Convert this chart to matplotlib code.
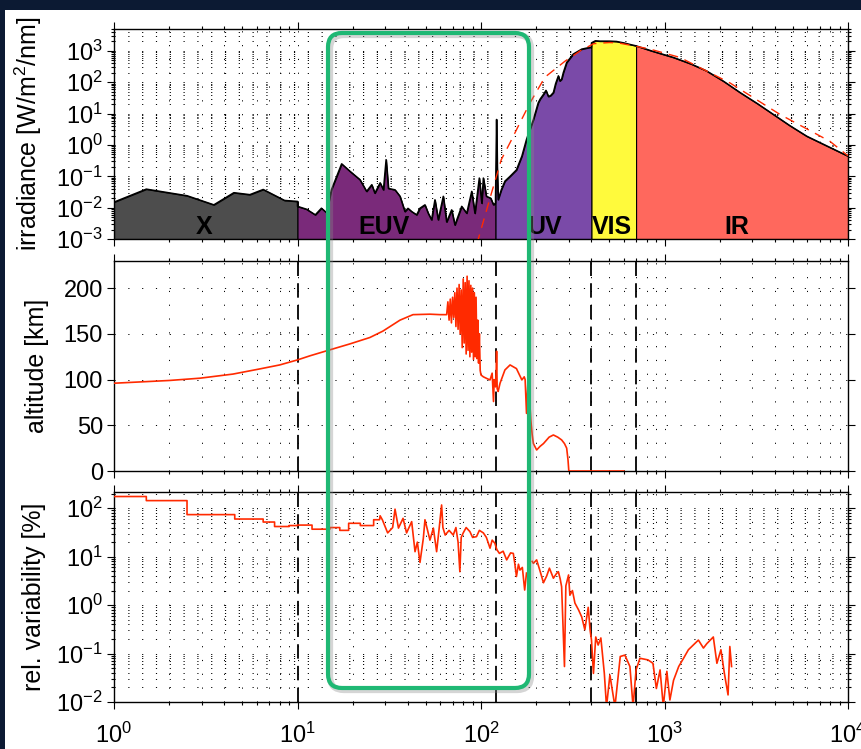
import numpy as np
import matplotlib.pyplot as plt
from matplotlib.patches import FancyBboxPatch, Rectangle
from matplotlib.transforms import IdentityTransform
from matplotlib.ticker import LogLocator, NullFormatter, FixedLocator

plt.rcParams['font.family'] = ['Liberation Sans', 'DejaVu Sans']
plt.rcParams['mathtext.fontset'] = 'custom'
plt.rcParams['mathtext.rm'] = 'Liberation Sans'
plt.rcParams['mathtext.it'] = 'Liberation Sans:italic'
plt.rcParams['mathtext.bf'] = 'Liberation Sans:bold'

# --- solar spectral irradiance (black line + coloured fill)
irr_wl = [1, 1.5, 2.5, 3.5, 4.5, 5.5, 6.5, 8.5, 10,
          10, 11.2, 12.5, 13.5, 14.4, 15.3, 17.4, 19.3, 21.9, 23.8, 25.4, 26.4, 28.2,
          29.4, 30.4, 31.3, 34, 36.2, 38.5, 40, 41.9, 44.6, 46.5, 49.5, 51.6, 53.8, 56.1,
          58.5, 62.3, 65, 69.2, 72.1, 78.5, 83.6, 89, 92.7, 97.9, 101, 103, 107, 113, 117, 120,
          120, 121.6, 122.5, 124, 129, 135, 144, 156, 167, 177, 193, 205, 210, 219, 226, 233,
          240, 248, 255, 264, 269, 275, 281, 293, 318, 354, 393, 400,
          400, 420, 445, 500, 548, 600, 650, 700,
          850, 1117, 1400, 1695, 2100, 2580, 3200, 3920, 4800, 5960, 7700, 10000]
irr_val = [0.015, 0.039, 0.024, 0.0123, 0.030, 0.026, 0.038, 0.017, 0.0158,
           0.011, 0.0089, 0.0059, 0.0096, 0.0069, 0.037, 0.25, 0.145, 0.078, 0.033, 0.054, 0.029, 0.062,
           0.037, 0.34, 0.041, 0.037, 0.023, 0.0075, 0.0095, 0.0075, 0.0059, 0.0096, 0.0123, 0.0066, 0.0041, 0.0178,
           0.0041, 0.023, 0.0035, 0.0085, 0.0028, 0.011, 0.0066, 0.033, 0.0066, 0.088, 0.0138, 0.088, 0.023, 0.020, 0.0123, 0.014,
           0.02, 6.5, 0.21, 0.018, 0.037, 0.07, 0.1, 0.16, 0.44, 1.5, 6.5, 22, 29, 41, 55, 35,
           38, 47, 90, 160, 110, 125, 204, 427, 790, 1140, 1300, 1300,
           1800, 2100, 2050, 2050, 2000, 1800, 1600, 1450,
           1000, 620, 380, 230, 107, 47, 21, 9.4, 4.2, 1.9, 0.92, 0.44]

# blackbody reference (red dashed)
bb_wl = [95, 114, 129, 147, 163, 185, 223, 287, 347, 411, 500, 560, 660, 830, 1213, 2275, 4260, 7980, 10000]
bb_val = [0.0007, 0.029, 0.34, 1.5, 5.1, 22, 145, 470, 1000, 1700, 1850, 1800, 1500, 1150, 620, 95, 9.4, 1.3, 0.45]

region_edges = [1, 10, 120, 400, 700, 10000]
region_names = ['X', 'EUV', 'UV', 'VIS', 'IR']
region_colors = ['#4d4d4d', '#7a2a7a', '#7a4aa8', '#fffa3c', '#ff685d']
region_label_x = [3.1, 29.6, 222, 517, 2470]

# --- absorption altitude
alt_wl = [1, 2, 2.94, 4.45, 6.25, 8, 10, 11.7, 15, 19.3, 24.8, 29.2, 36.2, 42.6, 52.7, 59.8,
          65, 66, 67, 68, 69, 70, 71, 72, 73, 74, 75, 76, 77, 78, 79, 80, 81, 82, 83, 84, 85,
          86, 87, 88, 89, 90, 91, 92, 93, 94, 95, 96, 97, 98, 99, 100,
          103, 108, 112, 115, 117, 118, 119, 120, 121, 121.6, 122.5, 124, 127, 135, 144, 156,
          167, 172, 174, 177, 180, 184, 187, 190, 193, 201, 210, 219, 235, 248, 262, 275, 285,
          293, 298, 301, 600]
alt_km = [96, 99, 101.5, 106, 111.7, 116, 121.5, 126, 132.5, 139, 146, 153, 165, 171, 171.5, 171,
          171, 185, 165, 188, 162, 190, 168, 195, 158, 200, 155, 204, 150, 198, 135, 210, 140, 206, 128, 213, 132,
          208, 125, 203, 130, 200, 122, 195, 125, 190, 123, 165, 118, 150, 110, 105,
          103, 101, 99.6, 107, 76, 100, 96, 92, 110, 131, 90, 87, 96, 110.5, 116, 112,
          99.6, 103, 100, 63, 95, 78, 55, 40, 30, 23, 27, 30, 37, 39.4, 37, 34, 30,
          25, 12, 0, 0]

# --- relative variability
var_wl = [1, 1.5, 1.5, 2.5, 2.5, 4.55, 4.55, 6.5, 6.5, 7.5, 7.5, 9, 9, 10, 10, 12, 12, 15, 15,
          17, 17, 19, 19, 22, 22, 26, 26, 28, 28.2, 29, 31, 33, 34, 35.5, 37.6, 39.3, 41.9,
          43.7, 45, 46.5, 48.5, 49.5, 52.7, 55, 57.3, 59, 61, 62, 63.8, 67, 70.6, 73, 75,
          76.7, 78, 80, 83, 87, 90, 94.5, 98, 103, 107, 112, 115, 119, 122, 126, 132, 138,
          145, 150, 153, 156, 160, 163, 168, 173, 177, 183,
          190, 193, 201, 210, 219, 228, 236, 248, 258, 264, 270, 275, 285, 290, 300, 305,
          315, 325, 340, 354, 368, 384, 393, 400, 410, 422, 435, 450, 470, 483, 504, 537,
          574, 608, 648, 674, 700, 735, 813, 865, 903, 946, 985, 1030, 1070, 1120, 1195,
          1270, 1350, 1530, 1630, 1700, 1845, 1930, 2030, 2120, 2220, 2270, 2320]
var_pct = [175, 175, 144, 144, 74, 74, 60, 60, 52, 52, 42, 42, 44, 44, 45, 45, 37, 37, 40,
           40, 35, 35, 49, 49, 44, 44, 58, 58, 70, 58, 31, 40, 96, 39, 62, 31, 53,
           12.7, 20, 7.6, 24, 58, 22, 39, 12.7, 35, 117, 40, 28, 35, 28, 40, 20,
           4.9, 25, 31, 40, 33, 25, 26, 35, 31, 25, 15, 22, 19, 14, 11.7, 13, 8.6,
           12, 11.7, 7, 3.9, 7, 5.3, 6, 2.05, 4.6, np.nan,
           8, 7.3, 8.6, 5, 2.9, 4, 5.8, 3.6, 4.5, 4.9, 3.5, 2.4, 0.054, 2.5, 4.2, 1.6,
           2, 1.1, 0.8, 0.57, 0.31, 0.9, 0.31, 0.19, 0.039, 0.22, 0.15, 0.21, 0.039, 0.008, 0.036, 0.008,
           0.087, 0.093, 0.054, 0.008, 0.046, 0.08, 0.074, 0.063, 0.019, 0.046, 0.008, 0.043, 0.011, 0.028, 0.054,
           0.08, 0.12, 0.19, 0.13, 0.16, 0.22, 0.063, 0.12, 0.039, 0.014, 0.14, 0.054]

boundaries = [10, 120, 400, 700]

irr_wl = np.array(irr_wl)
irr_val = np.array(irr_val)

RED = '#ff2a00'
W, H = 861, 749
fig = plt.figure(figsize=(W / 100, H / 100), dpi=100)
fig.patch.set_facecolor('#0c1a33')
fig.add_artist(Rectangle((5 / W, 0), 1, 1 - 10 / H, transform=fig.transFigure,
                         facecolor='white', edgecolor='none', zorder=-10))

x0, w = 114 / W, (848 - 114) / W
ax1 = fig.add_axes([x0, 1 - 239 / H, w, 210 / H])
ax2 = fig.add_axes([x0, 1 - 471 / H, w, 210.3 / H])
ax3 = fig.add_axes([x0, 1 - 702 / H, w, 210.3 / H])

dots = (0, (1.2, 13))


def style(ax):
    ax.set_xscale('log')
    ax.set_xlim(1, 1e4)
    ax.set_axisbelow(True)
    ax.xaxis.set_major_locator(FixedLocator([1, 10, 100, 1000, 10000]))
    ax.xaxis.set_minor_locator(LogLocator(base=10, subs=np.arange(2, 10), numticks=20))
    ax.xaxis.set_minor_formatter(NullFormatter())
    ax.tick_params(which='both', direction='out', top=True, right=True,
                   labelsize=17, width=0.8, pad=3)
    ax.tick_params(which='major', length=5)
    ax.tick_params(which='minor', length=2.5)
    for s in ax.spines.values():
        s.set_linewidth(1.0)


for ax in (ax1, ax2, ax3):
    style(ax)

# top panel
ax1.set_yscale('log')
ax1.set_ylim(1e-3, 5e3)
ax1.yaxis.set_major_locator(FixedLocator([1e-3, 1e-2, 1e-1, 1, 10, 100, 1000]))
ax1.yaxis.set_minor_locator(LogLocator(base=10, subs=np.arange(2, 10), numticks=20))
ax1.yaxis.set_minor_formatter(NullFormatter())
ax1.grid(which='both', color='k', linestyle=dots, linewidth=0.7)
for i in range(5):
    lo, hi = region_edges[i], region_edges[i + 1]
    m = (irr_wl >= lo) & (irr_wl <= hi)
    ax1.fill_between(irr_wl[m], 1e-3, irr_val[m], facecolor=region_colors[i],
                     edgecolor='k', linewidth=0.8, zorder=2)
    ax1.text(region_label_x[i], 1.4e-3, region_names[i], ha='center', va='baseline',
             fontsize=18, fontweight='bold', zorder=4)
ax1.plot(irr_wl, irr_val, color='k', lw=1.1, zorder=3)
ax1.plot(bb_wl, bb_val, color=RED, lw=1.0, dashes=(7, 5), zorder=3)
ax1.tick_params(labelbottom=False)
ax1.set_ylabel('irradiance [W/m$^2$/nm]', fontsize=18)
ax1.yaxis.set_label_coords(-0.095, 0.5)

# middle panel
ax2.set_ylim(0, 230)
ax2.set_yticks([0, 50, 100, 150, 200])
ax2.grid(which='major', axis='y', color='k', linestyle=dots, linewidth=0.7)
ax2.grid(which='both', axis='x', color='k', linestyle=dots, linewidth=0.7)
for b in boundaries:
    ax2.axvline(b, color='k', lw=1.3, dashes=(8, 4), zorder=2)
ax2.plot(alt_wl, alt_km, color=RED, lw=1.2, zorder=3)
ax2.tick_params(labelbottom=False)
ax2.set_ylabel('altitude [km]', fontsize=18)
ax2.yaxis.set_label_coords(-0.088, 0.5)

# bottom panel
ax3.set_yscale('log')
ax3.set_ylim(1e-2, 220)
ax3.yaxis.set_major_locator(FixedLocator([1e-2, 1e-1, 1, 10, 100]))
ax3.yaxis.set_minor_locator(LogLocator(base=10, subs=np.arange(2, 10), numticks=20))
ax3.yaxis.set_minor_formatter(NullFormatter())
ax3.grid(which='both', color='k', linestyle=dots, linewidth=0.7)
for b in boundaries:
    ax3.axvline(b, color='k', lw=1.3, dashes=(8, 4), zorder=2)
ax3.plot(var_wl, var_pct, color=RED, lw=1.2, zorder=3)
ax3.set_ylabel('rel. variability [%]', fontsize=18)
ax3.yaxis.set_label_coords(-0.092, 0.5)
ax3.tick_params(axis='x', pad=10)

# highlight box around EUV range
bx, by, bw, bh = 328, H - 688, 201, 655
shadow = FancyBboxPatch((bx + 2, by - 2), bw, bh, boxstyle='round,pad=0,rounding_size=14',
                        transform=IdentityTransform(), facecolor='none',
                        edgecolor='#888888', linewidth=4.5, alpha=0.35, zorder=5)
box = FancyBboxPatch((bx, by), bw, bh, boxstyle='round,pad=0,rounding_size=14',
                     transform=IdentityTransform(), facecolor='none',
                     edgecolor='#1fb874', linewidth=3.0, zorder=6)
fig.add_artist(shadow)
fig.add_artist(box)

fig.savefig('out.png', dpi=100, facecolor=fig.get_facecolor())
